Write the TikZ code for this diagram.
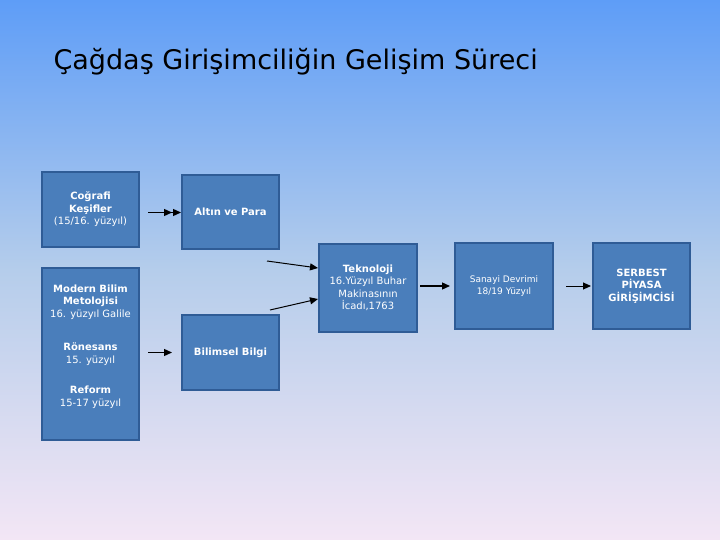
\documentclass[tikz,border=0pt]{standalone}
\usepackage{fontspec}
\setmainfont{DejaVu Sans}
\usetikzlibrary{arrows.meta}
\definecolor{boxfill}{HTML}{4A7EBB}
\definecolor{boxline}{HTML}{2F5C96}
\definecolor{bgtop}{HTML}{5E9DF7}
\definecolor{bgmid}{HTML}{B5CDEB}
\definecolor{bgbot}{HTML}{F3E6F5}
\begin{document}
\begin{tikzpicture}[x=1pt,y=-1pt,
  bx/.style={draw=boxline,fill=boxfill,line width=2pt,text=white,align=center,
    inner sep=0pt,font=\fontsize{10}{12.5}\selectfont},
  arr/.style={-{Triangle[length=8pt,width=7pt]},line width=1.3pt,black},
  thin arr/.style={-{Triangle[length=8pt,width=7pt]},line width=1pt,black}]
\shade[top color=bgtop,bottom color=bgbot,middle color=bgmid] (0,0) rectangle (720,540);
\useasboundingbox (0,0) rectangle (720,540);
\node[anchor=west,font=\fontsize{27}{32}\selectfont] (title) at (50,62) {Çağdaş Girişimciliğin Gelişim Süreci};
\node[bx,minimum width=97pt,minimum height=75pt] (cog) at (90.5,209.5) {\textbf{Coğrafi}\\\textbf{Keşifler}\\(15/16. yüzyıl)};
\node[bx,minimum width=97pt,minimum height=74pt] (alt) at (230.5,212) {\textbf{Altın ve Para}};
\node[bx,minimum width=97pt,minimum height=172pt] (mod) at (90.5,354) {};
\node[text=white,align=center,font=\fontsize{10}{12.5}\selectfont] (m1) at (90.5,302) {\textbf{Modern Bilim}\\\textbf{Metolojisi}\\16. yüzyıl Galile};
\node[text=white,align=center,font=\fontsize{10}{12.5}\selectfont] (m2) at (90.5,354) {\textbf{Rönesans}\\15. yüzyıl};
\node[text=white,align=center,font=\fontsize{10}{12.5}\selectfont] (m3) at (90.5,397) {\textbf{Reform}\\15-17 yüzyıl};
\node[bx,minimum width=97pt,minimum height=75pt] (bil) at (230.5,352.5) {\textbf{Bilimsel Bilgi}};
\node[bx,minimum width=98pt,minimum height=88pt] (tek) at (368,288) {\textbf{Teknoloji}\\16.Yüzyıl Buhar\\Makinasının\\İcadı,1763};
\node[bx,minimum width=98pt,minimum height=86pt,font=\fontsize{9}{12.5}\selectfont] (san) at (504,286) {Sanayi Devrimi\\18/19 Yüzyıl};
\node[bx,minimum width=97pt,minimum height=86pt] (ser) at (641.5,286) {\textbf{SERBEST}\\\textbf{PİYASA}\\\textbf{GİRİŞİMCİSİ}};
\coordinate (c1) at (267,261);
\coordinate (c2) at (270,310);
\draw[arr] (cog.east) ++(8,3) coordinate (a1) -- (alt.west |- a1) coordinate (a1e);
\draw[arr] (a1) -- ([xshift=-9pt]a1e);
\draw[thin arr] (c1) -- (tek.west |- 0,268);
\draw[thin arr] (c2) -- (tek.west |- 0,299);
\draw[arr] ([xshift=8pt,yshift=0pt]mod.east |- bil.west) -- ([xshift=-9pt]bil.west);
\draw[arr] ([xshift=2pt]tek.east |- san.west) -- ([xshift=-4pt]san.west);
\draw[thin arr] ([xshift=12pt]san.east) -- ([xshift=-1pt]ser.west);
\end{tikzpicture}
\end{document}
